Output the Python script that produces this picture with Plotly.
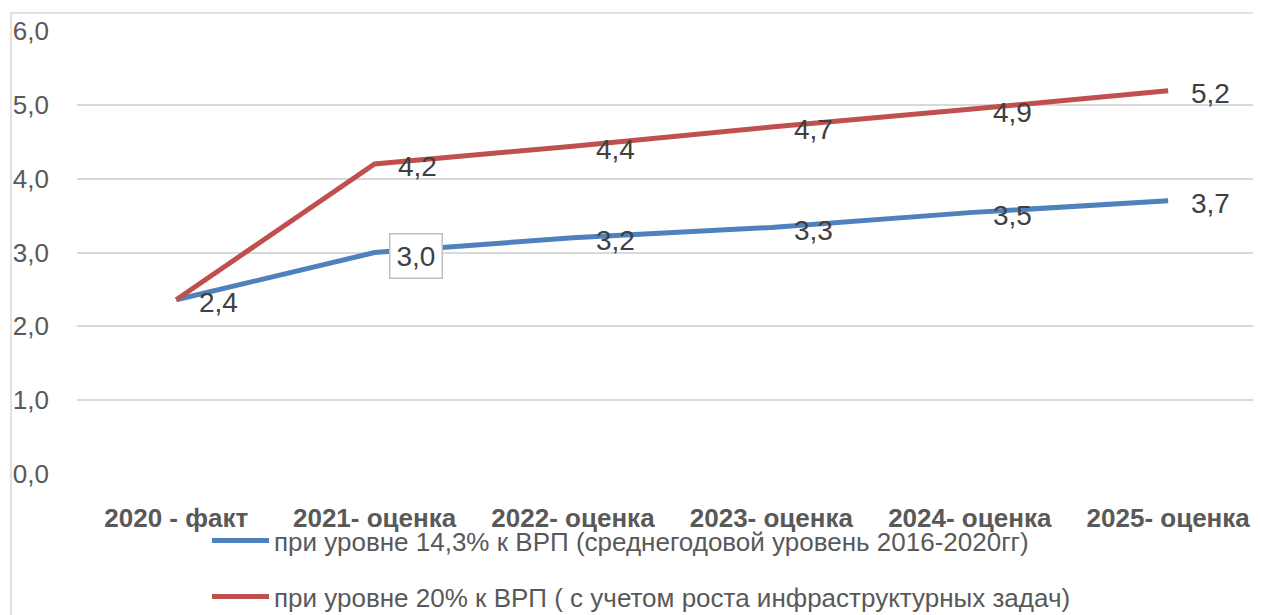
import plotly.graph_objects as go

categories = ["2020 - факт", "2021- оценка", "2022- оценка", "2023- оценка", "2024- оценка", "2025- оценка"]
series_names = [
    "при уровне 14,3% к ВРП (среднегодовой уровень 2016-2020гг)",
    "при уровне 20% к ВРП ( с учетом роста инфраструктурных задач)",
]
blue_values = [2.36, 3.0, 3.2, 3.34, 3.54, 3.7]
red_values = [2.36, 4.2, 4.44, 4.7, 4.94, 5.19]
blue_show_label = [True, True, True, True, True, True]
red_show_label = [False, True, True, True, True, True]
boxed_label = ("blue", 1)  # series, category index with framed label
y_ticks = [0, 1, 2, 3, 4, 5, 6]

BLUE = "#4f81bd"
RED = "#c0504d"
SANS = "Liberation Sans, Arial, sans-serif"

# page body has an 8px default margin; figure is sized/positioned to compensate
W, H = 1253, 607
L, T, B = 69, 23, 141
PW, PH = W - L, H - T - B

fig = go.Figure()
fig.add_trace(go.Scatter(x=categories, y=blue_values, mode="lines", name=series_names[0],
                         line=dict(color=BLUE, width=5), legend="legend"))
fig.add_trace(go.Scatter(x=categories, y=red_values, mode="lines", name=series_names[1],
                         line=dict(color=RED, width=5), legend="legend2"))

annotations = []
for key, vals, show in (("blue", blue_values, blue_show_label), ("red", red_values, red_show_label)):
    for i, (c, v) in enumerate(zip(categories, vals)):
        if not show[i]:
            continue
        boxed = (key, i) == boxed_label
        annotations.append(dict(
            x=c, y=v, xref="x", yref="y", text=f"{v:.1f}".replace(".", ","),
            showarrow=False, xanchor="left", yanchor="middle",
            xshift=14 if boxed else 22, yshift=-3,
            font=dict(family=SANS, size=28, color="#404040"),
            bgcolor="white" if boxed else None,
            bordercolor="#bfbfbf" if boxed else None,
            borderwidth=1.5 if boxed else 0,
            borderpad=6 if boxed else 1,
        ))

legend_font = dict(family=SANS, size=26, color="#595959")
fig.update_layout(
    width=W, height=H,
    margin=dict(l=L, r=0, t=T, b=B, autoexpand=False),
    paper_bgcolor="white", plot_bgcolor="white",
    xaxis=dict(
        range=[-0.5, 5.468], showgrid=False, zeroline=False, showline=False, ticks="",
        tickfont=dict(family=SANS, size=26, color="#595959", weight="bold"),
        ticklabelstandoff=26,
    ),
    yaxis=dict(
        range=[0, 6], tickvals=y_ticks, ticktext=[f"{t:.1f}".replace(".", ",") for t in y_ticks],
        showgrid=True, gridcolor="#d9d9d9", gridwidth=1.5, zeroline=False, showline=False,
        tickfont=dict(family=SANS, size=26, color="#595959"),
        ticklabelstandoff=27,
    ),
    showlegend=True,
    legend=dict(x=(207 - 77) / PW, y=-(517 - 474) / PH, xanchor="left", yanchor="top",
                bgcolor="rgba(0,0,0,0)", font=legend_font, itemwidth=57),
    legend2=dict(x=(207 - 77) / PW, y=-(573 - 474) / PH, xanchor="left", yanchor="top",
                 bgcolor="rgba(0,0,0,0)", font=legend_font, itemwidth=57),
    annotations=annotations,
    shapes=[dict(type="rect", xref="paper", yref="paper",
                 x0=(11 - 77) / PW, x1=1.2, y0=-0.6, y1=(474 - 13) / PH,
                 line=dict(color="#d9d9d9", width=1.5), fillcolor="rgba(0,0,0,0)", layer="below")],
)

fig.write_html("out.html")
